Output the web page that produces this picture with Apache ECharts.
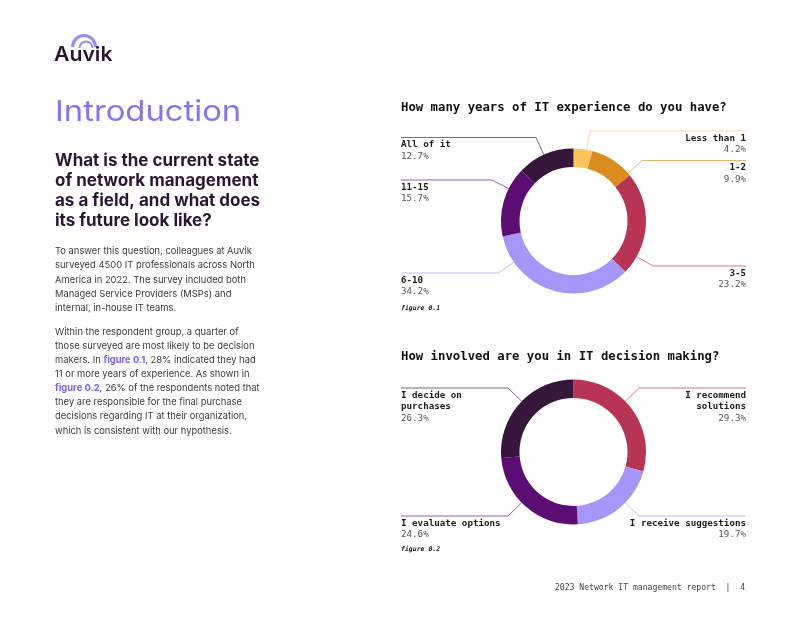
<!DOCTYPE html>
<html>
<head>
<meta charset="utf-8">
<title>2023 Network IT management report</title>
<script src="https://cdn.jsdelivr.net/npm/echarts@6.0.0/dist/echarts.min.js"></script>
<style>
  html, body { margin: 0; padding: 0; background: #fff; }
  #main { width: 800px; height: 618px; }
</style>
</head>
<body>
<div id="main"></div>
<script>
// figure 0.1 - years of IT experience
var expCategories = ['Less than 1', '1-2', '3-5', '6-10', '11-15', 'All of it'];
var expValues = [4.2, 9.9, 23.2, 34.2, 15.7, 12.7];
// figure 0.2 - involvement in IT decision making
var roleCategories = ['I recommend\nsolutions', 'I receive suggestions', 'I evaluate options', 'I decide on\npurchases'];
var roleValues = [29.3, 19.7, 24.6, 26.3];

var expColors = ['#f9c55a', '#db8c1e', '#b73553', '#a596f7', '#5c0d74', '#36173b'];
var roleColors = ['#b73553', '#a596f7', '#5c0d74', '#36173b'];
// height of the leader line for each label (same order as the data)
var labelLineY = [
    [131, 160.5, 266, 273, 180, 137.5],
    [388, 516, 516, 388]
];

var monoFont = 'DejaVu Sans Mono';
var sansFont = 'Inter';

var myChart = echarts.init(document.getElementById('main'), null, {renderer: 'canvas'});
var option = null;

function toPieData(names, values, colors) {
    var arr = [];
    for (var i = 0; i < names.length; i++) {
        arr.push({name: names[i], value: values[i], itemStyle: {color: colors[i]}});
    }
    return arr;
}

function labelText(params) {
    var lines = params.name.split('\n');
    var out = [];
    for (var i = 0; i < lines.length; i++) {
        out.push('{n|' + lines[i] + '}');
    }
    out.push('{v|' + params.value.toFixed(1) + '%}');
    return out.join('\n');
}

// leader lines: go radially out to the label height, then along to the edge
function layoutLabel(params) {
    var seriesModel = myChart.getModel().getSeriesByIndex(params.seriesIndex);
    var lay = seriesModel.getData().getItemLayout(params.dataIndex);
    var targetY = labelLineY[params.seriesIndex][params.dataIndex];
    var isLeft = params.labelRect.x + params.labelRect.width / 2 < lay.cx;
    var dir = isLeft ? -1 : 1;
    var bendR = lay.r + 19;
    var dy = targetY - lay.cy;
    var dx = dir * Math.sqrt(Math.max(bendR * bendR - dy * dy, 0));
    var k = lay.r / bendR;
    var edgeX = isLeft ? params.labelRect.x : params.labelRect.x + params.labelRect.width;
    return {
        y: targetY + 1.5,
        verticalAlign: 'top',
        labelLinePoints: [
            [lay.cx + dx * k, lay.cy + dy * k],
            [lay.cx + dx, targetY],
            [edgeX, targetY]
        ]
    };
}

var pieLabel = {
    show: true,
    position: 'outside',
    alignTo: 'edge',
    edgeDistance: 0,
    width: 140,
    overflow: 'none',
    formatter: labelText,
    rich: {
        n: {fontFamily: monoFont, fontSize: 9.2, fontWeight: 'bold', color: '#1b1b1b', lineHeight: 11.5},
        v: {fontFamily: monoFont, fontSize: 9.2, color: '#555', lineHeight: 11.5}
    }
};

var pieLine = {
    show: true,
    length: 18,
    length2: 10,
    lineStyle: {width: 1, opacity: 0.65}
};

option = {
    animation: false,
    backgroundColor: '#fff',
    title: [
        {
            text: 'How many years of IT experience do you have?',
            left: 401, top: 100, padding: 0,
            textStyle: {fontFamily: monoFont, fontSize: 12.3, fontWeight: 'bold', color: '#111', lineHeight: 16}
        },
        {
            text: 'How involved are you in IT decision making?',
            left: 401, top: 349, padding: 0,
            textStyle: {fontFamily: monoFont, fontSize: 12.3, fontWeight: 'bold', color: '#111', lineHeight: 16}
        }
    ],
    graphic: [
        // logo
        {type: 'arc', shape: {cx: 84, cy: 47, r: 11.5, startAngle: Math.PI, endAngle: Math.PI * 2},
            style: {stroke: '#9b87f5', lineWidth: 3, fill: null}},
        {type: 'arc', shape: {cx: 86, cy: 48, r: 6.5, startAngle: Math.PI, endAngle: Math.PI * 2},
            style: {stroke: '#9b87f5', lineWidth: 2, fill: null}},
        {type: 'text', x: 54, y: 55, scaleX: 1.06, style: {text: 'Auvik', fontFamily: sansFont, fontSize: 20, fontWeight: 600,
            fill: '#2a1430', verticalAlign: 'middle'}},
        // left column
        {type: 'text', x: 55, y: 112, scaleX: 1.13, style: {text: 'Introduction', fontFamily: sansFont, fontSize: 29, fontWeight: 400,
            fill: '#8b70f1', verticalAlign: 'middle'}},
        {type: 'text', x: 55, y: 150.7, style: {
            text: 'What is the current state\nof network management\nas a field, and what does\nits future look like?',
            fontFamily: sansFont, fontSize: 17, fontWeight: 'bold', lineHeight: 20, fill: '#2b1633', verticalAlign: 'top'}},
        {type: 'text', x: 55, y: 244, style: {
            text: 'To answer this question, colleagues at Auvik\nsurveyed 4500 IT professionals across North\nAmerica in 2022. The survey included both\nManaged Service Providers (MSPs) and\ninternal, in-house IT teams.',
            fontFamily: sansFont, fontSize: 9.4, lineHeight: 14.3, fill: '#3b3b3b', verticalAlign: 'top'}},
        {type: 'text', x: 55, y: 325, style: {
            text: 'Within the respondent group, a quarter of\nthose surveyed are most likely to be decision\nmakers. In {f|figure 0.1}, 28% indicated they had\n11 or more years of experience. As shown in\n{f|figure 0.2}, 26% of the respondents noted that\nthey are responsible for the final purchase\ndecisions regarding IT at their organization,\nwhich is consistent with our hypothesis.',
            fontFamily: sansFont, fontSize: 9.4, lineHeight: 14.1, fill: '#3b3b3b', verticalAlign: 'top',
            rich: {f: {fontFamily: sansFont, fontSize: 9.4, lineHeight: 14.1, fontWeight: 'bold', fill: '#7a5cf0'}}}},
        // figure captions
        {type: 'text', x: 401, y: 308, style: {text: 'figure 0.1', fontFamily: monoFont, fontSize: 6.5,
            fontStyle: 'italic', fontWeight: 'bold', fill: '#222', verticalAlign: 'middle'}},
        {type: 'text', x: 401, y: 549, style: {text: 'figure 0.2', fontFamily: monoFont, fontSize: 6.5,
            fontStyle: 'italic', fontWeight: 'bold', fill: '#222', verticalAlign: 'middle'}},
        // footer
        {type: 'text', x: 745, y: 588, style: {text: '2023 Network IT management report  |  4', fontFamily: monoFont,
            fontSize: 8.1, fill: '#444', align: 'right', verticalAlign: 'middle'}}
    ],
    series: [
        {
            name: 'Years of IT experience',
            type: 'pie',
            left: 401, right: 54, top: 130, height: 182,
            center: ['50%', '50%'],
            radius: [54, 72.5],
            startAngle: 90,
            clockwise: true,
            label: pieLabel,
            labelLine: pieLine,
            labelLayout: layoutLabel,
            emphasis: {disabled: true},
            data: toPieData(expCategories, expValues, expColors)
        },
        {
            name: 'IT decision making',
            type: 'pie',
            left: 401, right: 54, top: 361, height: 182,
            center: ['50%', '50%'],
            radius: [54, 72.5],
            startAngle: 90,
            clockwise: true,
            label: pieLabel,
            labelLine: pieLine,
            labelLayout: layoutLabel,
            emphasis: {disabled: true},
            data: toPieData(roleCategories, roleValues, roleColors)
        }
    ]
};

if (option && typeof option === "object") {
    myChart.setOption(option, true);
}
</script>
</body>
</html>
